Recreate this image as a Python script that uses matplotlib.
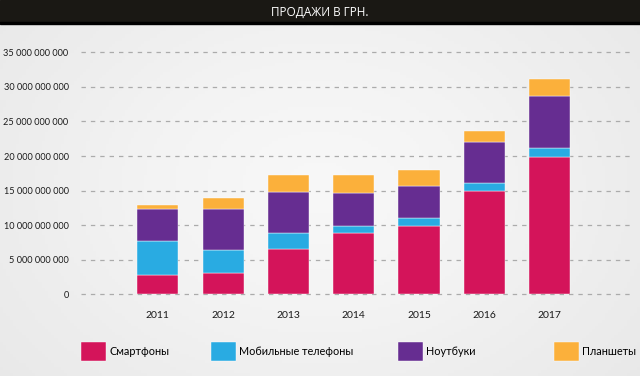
import numpy as np
import matplotlib
matplotlib.use("Agg")
import matplotlib.pyplot as plt
from matplotlib.patches import Rectangle

plt.rcParams['font.family'] = ['Lato', 'DejaVu Sans']

years = ['2011', '2012', '2013', '2014', '2015', '2016', '2017']
# values in billions of UAH
smartphones = [2.8, 3.1, 6.5, 8.9, 9.9, 14.9, 19.9]
mobiles = [4.9, 3.3, 2.4, 1.0, 1.15, 1.15, 1.3]
notebooks = [4.7, 6.0, 5.9, 4.7, 4.6, 6.0, 7.5]
tablets = [0.5, 1.5, 2.4, 2.7, 2.3, 1.5, 2.45]
names = ['Смартфоны', 'Мобильные телефоны', 'Ноутбуки', 'Планшеты']
colors = ['#d4145a', '#29abe2', '#662d91', '#fbb03b']
yticks = np.arange(0, 36, 5)

fig = plt.figure(figsize=(6.4, 3.76), dpi=100)
fig.patch.set_facecolor('#f7f7f7')

# soft light background gradient
bg = fig.add_axes([0, 0, 1, 1], zorder=-10)
gx, gy = np.meshgrid(np.linspace(-1, 1, 200), np.linspace(-1, 1, 120))
bg.imshow(np.sqrt(gx**2 + (gy*0.8)**2), cmap='Greys', vmin=0, vmax=1.6,
          aspect='auto', extent=[0, 1, 0, 1], alpha=0.08)
bg.set_axis_off()

# title bar
fig.patches.append(Rectangle((0, 1 - 22/376), 1, 22/376, transform=fig.transFigure,
                             color='#1a1814', zorder=5))
fig.patches.append(Rectangle((0, 1 - 23.5/376), 1, 1.5/376, transform=fig.transFigure,
                             color='#000000', zorder=5))
fig.text(0.5, 1 - 12/376, 'ПРОДАЖИ В ГРН.', color='white', fontsize=8.5,
         ha='center', va='center', zorder=6,
         family=['Liberation Sans Narrow', 'Open Sans', 'DejaVu Sans'])

ax = fig.add_axes([81/640, 1 - 294.3/376, 549/640, 242/376])
ax.set_facecolor('none')
x = np.arange(len(years))
bottom = np.zeros(len(years))
bars = []
for vals, c in zip([smartphones, mobiles, notebooks, tablets], colors):
    b = ax.bar(x, np.array(vals) * 1e9, 0.63, bottom=bottom, color=c,
               edgecolor='white', linewidth=0.3, zorder=3)
    bars.append(b)
    bottom += np.array(vals) * 1e9

ax.set_xlim(-1.176, 7.23)
ax.set_ylim(0, 35e9)
for v in yticks:
    ax.axhline(v * 1e9, color='#ababab', lw=0.9, ls=(0, (3.5, 4)), zorder=1, clip_on=False)
ax.set_yticks(yticks * 1e9)
ax.set_yticklabels(['{:,}'.format(int(v * 1e9)).replace(',', ' ') if v else '0' for v in yticks],
                   fontsize=6.6, color='#1a1a1a')
ax.set_xticks(x)
ax.set_xticklabels(years, fontsize=7.5, color='#1a1a1a')
ax.tick_params(length=0, pad=9, axis='y')
ax.tick_params(length=0, pad=12, axis='x')
for s in ax.spines.values():
    s.set_visible(False)

# legend, one entry per block
leg_x = [81, 211, 398, 554]
for b, n, lx in zip(bars, names, leg_x):
    fig.legend([b], [n], loc='center left', bbox_to_anchor=(lx/640, 1 - 351.5/376),
               frameon=False, fontsize=7.8, handlelength=2.3, handleheight=2.3,
               handletextpad=0.3, borderaxespad=0, borderpad=0)

fig.savefig('out.png', dpi=100, facecolor=fig.get_facecolor())
